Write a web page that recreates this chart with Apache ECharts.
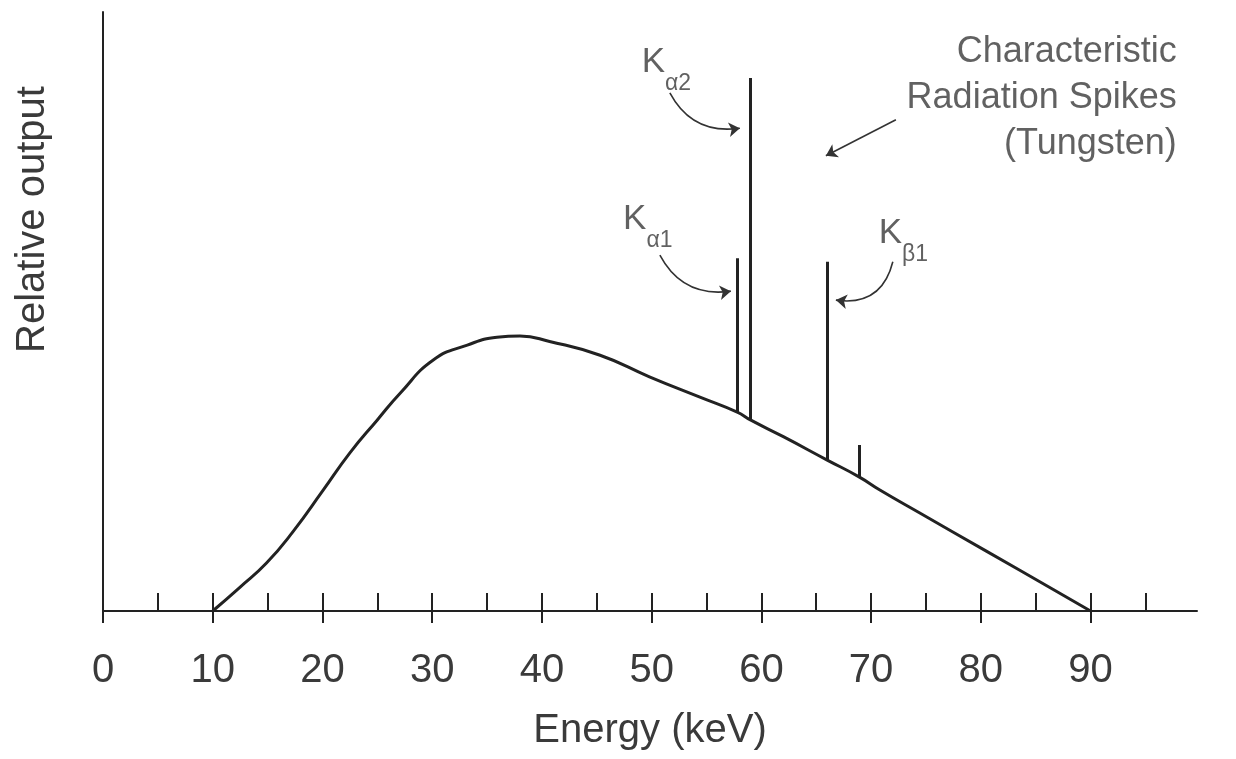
<!DOCTYPE html>
<html><head><meta charset="utf-8">
<script src="https://cdn.jsdelivr.net/npm/echarts@6/dist/echarts.min.js"></script>
<style>html,body{margin:0;padding:0;background:#fff}#c{width:1236px;height:759px}</style>
</head><body><div id="c"></div>
<script>
// ---- data ----
const energy = [10, 12.5, 14.9, 17.3, 20.0, 22.5, 25.0, 27.1, 30.1, 33.2, 35.9, 38.0, 40.7, 45.3, 49.8, 54.4, 57.8, 59.0, 62.0, 66.0, 68.9, 70.8, 74.4, 80.5, 86.6, 90];
const output = [0, 4.0, 8.0, 13.2, 20.0, 26.4, 31.9, 36.4, 41.9, 44.4, 45.7, 45.9, 45.0, 42.7, 39.1, 35.7, 33.2, 31.9, 29.1, 25.2, 22.4, 20.2, 16.4, 10.0, 3.6, 0];

const spikeEnergy = [57.8, 59.0, 66.0, 68.9];
const spikeBase   = [33.2, 31.9, 25.2, 22.4];
const spikeTop    = [58.9, 89.0, 58.3, 27.7];

const xMajorTicks = [0, 10, 20, 30, 40, 50, 60, 70, 80, 90];
const xAllTicks = [0, 5, 10, 15, 20, 25, 30, 35, 40, 45, 50, 55, 60, 65, 70, 75, 80, 85, 90, 95];
const xMax = 99.7;
const yMax = 100;

const kSubs = ['α1', 'α2', 'β1'];
const kLabelAt = [[47.4, 68.3], [49.1, 94.5], [70.7, 65.9]];
const arrowFrom = [[50.75, 59.4], [51.66, 86.5], [71.98, 58.3], [72.26, 82.0]];
const arrowTo   = [[57.22, 53.4], [58.04, 80.6], [66.79, 51.9], [65.88, 76.0]];
const arrowBend = [-0.35, -0.35, 0.45, 0];

const noteText = ['Characteristic', 'Radiation Spikes', '(Tungsten)'];
const noteAt = [97.86, 97.2];

const xName = 'Energy (keV)';
const yName = 'Relative output';

// ---- chart ----
const ink = '#222';
const textColor = '#3a3a3a';
const font = 'Liberation Sans, Arial, Helvetica, sans-serif';

const chart = echarts.init(document.getElementById('c'), null, {renderer: 'canvas'});
chart.setOption({
  animation: false,
  backgroundColor: '#fff',
  grid: {left: 103, right: 39, top: 12, bottom: 148, containLabel: false, outerBoundsMode: 'none'},
  xAxis: [{
    type: 'value', min: 0, max: xMax, position: 'bottom',
    splitLine: {show: false},
    axisLine: {show: true, lineStyle: {color: ink, width: 2}},
    axisTick: {show: true, inside: true, length: 18, customValues: xAllTicks, lineStyle: {color: ink, width: 2}},
    axisLabel: {show: true, customValues: xMajorTicks, margin: 40, fontSize: 40, color: textColor, fontFamily: font},
    name: xName, nameLocation: 'middle', nameGap: 100,
    nameTextStyle: {fontSize: 40, color: textColor, fontFamily: font}
  }, {
    type: 'value', min: 0, max: xMax, position: 'bottom',
    splitLine: {show: false},
    axisLine: {show: false},
    axisTick: {show: true, inside: false, length: 12, customValues: xMajorTicks, lineStyle: {color: ink, width: 2}},
    axisLabel: {show: false}
  }],
  yAxis: {
    type: 'value', min: 0, max: yMax,
    splitLine: {show: false},
    axisLine: {show: true, lineStyle: {color: ink, width: 2}},
    axisTick: {show: false},
    axisLabel: {show: false},
    name: yName, nameLocation: 'middle', nameGap: 50,
    nameTextStyle: {fontSize: 40, color: textColor, fontFamily: font, padding: [0, 0, 0, 184]}
  },
  series: [{
    type: 'line', name: 'spectrum',
    data: energy.map((e, i) => [e, output[i]]),
    smooth: 0.5, showSymbol: false, symbol: 'none',
    lineStyle: {color: ink, width: 3}
  }, {
    type: 'lines', coordinateSystem: 'cartesian2d', name: 'spikes',
    data: spikeEnergy.map((e, i) => ({coords: [[e, spikeBase[i]], [e, spikeTop[i]]]})),
    symbol: ['none', 'none'],
    lineStyle: {color: ink, width: 3, opacity: 1, curveness: 0}
  }, {
    type: 'lines', coordinateSystem: 'cartesian2d', name: 'arrows',
    data: arrowFrom.map((p, i) => ({coords: [p, arrowTo[i]], lineStyle: {curveness: arrowBend[i]}})),
    symbol: ['none', 'arrow'], symbolSize: 11,
    lineStyle: {color: '#333', width: 1.6, opacity: 1},
    itemStyle: {color: '#333'}
  }, {
    type: 'scatter', name: 'labels', symbolSize: 0.1,
    itemStyle: {color: 'rgba(0,0,0,0)'},
    data: kSubs.map((s, i) => ({
      value: kLabelAt[i],
      label: {
        show: true, position: [0, 0], align: 'left', verticalAlign: 'top',
        formatter: '{k|K}{s|' + s + '}',
        rich: {
          k: {fontSize: 35, lineHeight: 36, verticalAlign: 'top', color: textColor, fontFamily: font},
          s: {fontSize: 23, lineHeight: 50, verticalAlign: 'bottom', color: textColor, fontFamily: font}
        }
      }
    })).concat([{
      value: noteAt,
      label: {
        show: true, position: [0, 0], align: 'right', verticalAlign: 'top',
        formatter: noteText.join('\n'),
        fontSize: 36, lineHeight: 46, color: textColor, fontFamily: font
      }
    }])
  }]
});
</script>
</body></html>
